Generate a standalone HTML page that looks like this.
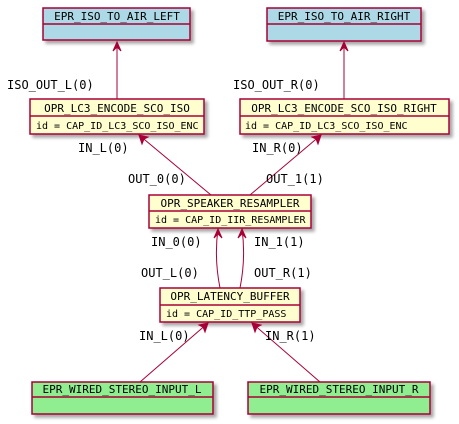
<!DOCTYPE html>
<html><head><meta charset="utf-8"><style>
html,body{margin:0;padding:0;background:#fff;width:459px;height:424px;overflow:hidden}
text{font-family:"DejaVu Sans Mono","Liberation Mono",monospace;fill:#000}
</style></head><body>
<svg width="459" height="424" xmlns="http://www.w3.org/2000/svg">
<defs>
<filter id="sh" x="-10%" y="-10%" width="130%" height="140%"><feGaussianBlur in="SourceAlpha" stdDeviation="1.5"/><feOffset dx="3" dy="3"/><feComponentTransfer><feFuncA type="linear" slope="0.35"/></feComponentTransfer><feMerge><feMergeNode/><feMergeNode in="SourceGraphic"/></feMerge></filter>
</defs>
<g stroke="#A80036" stroke-width="1.5">
<rect x="43" y="8" width="147" height="32" fill="#ADD8E6" filter="url(#sh)"/>
<line x1="43" y1="24" x2="190" y2="24"/>
<rect x="267" y="8" width="154" height="33" fill="#ADD8E6" filter="url(#sh)"/>
<line x1="267" y1="24" x2="421" y2="24"/>
<rect x="30" y="99" width="174" height="35" fill="#FEFECE" filter="url(#sh)"/>
<line x1="30" y1="116" x2="204" y2="116"/>
<rect x="240" y="99" width="209" height="35" fill="#FEFECE" filter="url(#sh)"/>
<line x1="240" y1="116" x2="449" y2="116"/>
<rect x="149" y="195" width="162" height="33" fill="#FEFECE" filter="url(#sh)"/>
<line x1="149" y1="211" x2="311" y2="211"/>
<rect x="160" y="288" width="140" height="34" fill="#FEFECE" filter="url(#sh)"/>
<line x1="160" y1="305" x2="300" y2="305"/>
<rect x="32" y="382" width="181" height="32" fill="#90EE90" filter="url(#sh)"/>
<line x1="32" y1="397" x2="213" y2="397"/>
<rect x="248" y="382" width="182" height="32" fill="#90EE90" filter="url(#sh)"/>
<line x1="248" y1="397" x2="430" y2="397"/>
</g>
<g stroke="#A80036" stroke-width="1" fill="none">
<line x1="117" y1="99" x2="117" y2="42"/>
<line x1="344" y1="99" x2="344" y2="42"/>
<line x1="211" y1="195" x2="139" y2="135"/>
<line x1="250" y1="195" x2="321" y2="135"/>
<path d="M220,288 Q214,258 218,229"/>
<path d="M240,288 Q246,258 242,229"/>
<line x1="140" y1="382" x2="208" y2="323"/>
<line x1="320" y1="382" x2="252" y2="323"/>
</g>
<g stroke="#A80036" stroke-width="1" fill="#A80036">
<polygon points="113,51 117,42 121,51 117,47"/>
<polygon points="340,51 344,42 348,51 344,47"/>
<polygon points="142,144 139,135 148,137 144,139"/>
<polygon points="312,137 321,135 318,144 316,139"/>
<polygon points="214,238 218,229 222,238 218,234"/>
<polygon points="238,238 242,229 246,238 242,234"/>
<polygon points="199,325 208,323 205,332 203,327"/>
<polygon points="255,332 252,323 261,325 257,327"/>
</g>
<g font-size="11">
<text x="117" y="20" text-anchor="middle">EPR_ISO_TO_AIR_LEFT</text>
<text x="344" y="20" text-anchor="middle">EPR_ISO_TO_AIR_RIGHT</text>
<text x="117" y="112" text-anchor="middle">OPR_LC3_ENCODE_SCO_ISO</text>
<text x="344" y="112" text-anchor="middle">OPR_LC3_ENCODE_SCO_ISO_RIGHT</text>
<text x="230" y="207" text-anchor="middle">OPR_SPEAKER_RESAMPLER</text>
<text x="230" y="300" text-anchor="middle">OPR_LATENCY_BUFFER</text>
<text x="122" y="393" text-anchor="middle">EPR_WIRED_STEREO_INPUT_L</text>
<text x="339" y="393" text-anchor="middle">EPR_WIRED_STEREO_INPUT_R</text>
</g>
<g font-size="10">
<text x="36" y="129">id = CAP_ID_LC3_SCO_ISO_ENC</text>
<text x="245" y="129">id = CAP_ID_LC3_SCO_ISO_ENC</text>
<text x="155" y="223">id = CAP_ID_IIR_RESAMPLER</text>
<text x="166" y="317">id = CAP_ID_TTP_PASS</text>
</g>
<g font-size="12">
<text x="7" y="89">ISO_OUT_L(0)</text>
<text x="233" y="89">ISO_OUT_R(0)</text>
<text x="78" y="152">IN_L(0)</text>
<text x="252" y="152">IN_R(0)</text>
<text x="128" y="183">OUT_0(0)</text>
<text x="266" y="183">OUT_1(1)</text>
<text x="151" y="246">IN_0(0)</text>
<text x="254" y="246">IN_1(1)</text>
<text x="141" y="277">OUT_L(0)</text>
<text x="254" y="277">OUT_R(1)</text>
<text x="139" y="340">IN_L(0)</text>
<text x="265" y="340">IN_R(1)</text>
</g>
</svg>
</body></html>
